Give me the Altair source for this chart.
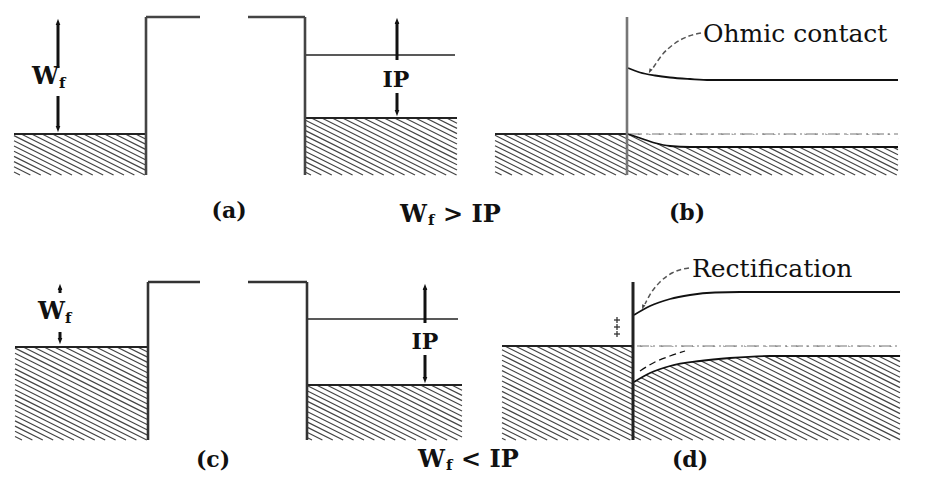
import altair as alt
import pandas as pd

# ---------------- data (pixel-space schematic coordinates) ----------------
# straight segments: [x1, y1, x2, y2]
barrier_a = [[146, 17, 146, 175], [146, 17, 200, 17], [248, 17, 305, 17], [305, 17, 305, 175]]
barrier_c = [[148, 282, 148, 440], [148, 282, 200, 282], [248, 282, 307, 282], [307, 282, 307, 440]]
fermi_levels = [[14, 134, 146, 134], [305, 118, 457, 118], [495, 134, 627, 134],
                [15, 347, 148, 347], [307, 385, 462, 385], [502, 346, 633, 346]]
vacuum_levels = [[305, 55, 455, 55], [307, 319, 458, 319]]
interface_b = [[627, 17, 627, 175]]
interface_d = [[633, 282, 633, 440]]
dashdot_levels = [[630, 134, 898, 134], [637, 346, 900, 346]]
arrow_shafts = [[58, 68, 58, 24], [58, 96, 58, 127], [397, 60, 397, 22], [397, 93, 397, 111],
                [60, 293, 60, 288], [60, 332, 60, 339], [425, 323, 425, 288], [425, 355, 425, 378]]
# arrow heads: [x, y, angle]
arrow_heads = [[58, 22, 0], [58, 129, 180], [397, 21, 0], [397, 113, 180],
               [60, 287, 0], [60, 341, 180], [425, 287, 0], [425, 380, 180]]

# surface charges in (d): small plus signs [x, y]
plus_marks = [[617, 320], [617, 327], [617, 334]]

# hatched regions: [x0, x1, y0, y1]
hatch_regions = [[14, 146, 134, 175], [305, 457, 118, 175], [495, 898, 134, 175],
                 [15, 148, 347, 440], [307, 462, 385, 440], [502, 900, 346, 440]]

# band-bending curves
b_upper_x = [628, 640, 655, 670, 690, 710, 898]
b_upper_y = [68, 72.5, 75.5, 77.5, 79, 80, 80]
b_lower_x = [628, 640, 655, 670, 690, 710, 898]
b_lower_y = [134, 138, 143, 146, 147, 147, 147]
d_upper_x = [634, 650, 670, 690, 715, 740, 900]
d_upper_y = [315, 306, 299, 295, 292.5, 292, 292]
d_lower_x = [634, 650, 670, 700, 730, 770, 900]
d_lower_y = [382, 373, 366, 361, 358, 356, 356]
d_dashed_x = [640, 655, 670, 685]
d_dashed_y = [371, 362, 356, 351]

# callout arrows (dashed curves)
ohmic_arrow_x = [701, 689, 674, 662, 653]
ohmic_arrow_y = [33, 36, 44, 55, 68]
rect_arrow_x = [689, 672, 660, 651, 645]
rect_arrow_y = [268, 273, 282, 293, 304]
callout_heads = [[650, 71, 208], [643, 307, 200]]

# texts: [text, x, y, size, weight, align, baseline]
labels = [
    ["W", 32, 77, 24, "bold", "left", "middle"], ["f", 59, 83, 15, "bold", "left", "middle"],
    ["IP", 396, 80, 22, "bold", "center", "middle"],
    ["W", 38, 312, 24, "bold", "left", "middle"], ["f", 65, 318, 15, "bold", "left", "middle"],
    ["IP", 425, 342, 22, "bold", "center", "middle"],
    ["(a)", 229, 211, 22, "bold", "center", "middle"],
    ["(b)", 687, 213, 22, "bold", "center", "middle"],
    ["(c)", 213, 460, 22, "bold", "center", "middle"],
    ["(d)", 690, 460, 22, "bold", "center", "middle"],
    ["W", 400, 215, 24, "bold", "left", "middle"], ["f", 428, 220, 15, "bold", "left", "middle"],
    ["> IP", 443, 215, 24, "bold", "left", "middle"],
    ["W", 418, 460, 24, "bold", "left", "middle"],
    ["f", 446, 465, 15, "bold", "left", "middle"],
    ["< IP", 461, 460, 24, "bold", "left", "middle"],
    ["Ohmic contact", 703, 34, 25, "normal", "left", "middle"],
    ["Rectification", 692, 269, 25, "normal", "left", "middle"],
]

# ---------------- build ----------------
XS = alt.Scale(domain=[8, 917], range=[0, 909], nice=False, zero=False)
YS = alt.Scale(domain=[8, 475], range=[0, 467], nice=False, zero=False)


def X(f="x"):
    return alt.X(f"{f}:Q", scale=XS, axis=None)


def Y(f="y"):
    return alt.Y(f"{f}:Q", scale=YS, axis=None)


def rules(segs, color="#222", width=1.5, dash=None):
    kw = dict(color=color, strokeWidth=width)
    if dash:
        kw["strokeDash"] = dash
    df = pd.DataFrame(segs, columns=["x", "y", "x2", "y2"])
    return alt.Chart(df).mark_rule(**kw).encode(x=X(), y=Y(), x2="x2:Q", y2="y2:Q")


def hatch(x0, x1, y0, y1, step=5.2, slope=0.5):
    out = []
    c = y0 - slope * (x1 - x0)
    while c < y1:
        xa, ya = x0, c
        if ya < y0:
            xa, ya = x0 + (y0 - c) / slope, y0
        xb, yb = x1, c + slope * (x1 - x0)
        if yb > y1:
            xb, yb = x0 + (y1 - c) / slope, y1
        if xa < xb:
            out.append([xa, ya, xb, yb])
        c += step
    return out


hatch_segs = []
for r in hatch_regions:
    hatch_segs += hatch(*r)

plus_segs = []
for px, py in plus_marks:
    plus_segs += [[px - 3, py, px + 3, py], [px, py - 3, px, py + 3]]


def curve(xs, ys, color="#111", width=1.8, dash=None):
    kw = dict(color=color, strokeWidth=width, interpolate="monotone")
    if dash:
        kw["strokeDash"] = dash
    df = pd.DataFrame({"x": xs, "y": ys, "o": range(len(xs))})
    return alt.Chart(df).mark_line(**kw).encode(x=X(), y=Y(), order="o:Q")


def mask(xs, ys, top):
    df = pd.DataFrame({"x": xs, "y": [top] * len(xs), "y2": ys})
    return alt.Chart(df).mark_area(color="white", opacity=1, interpolate="monotone").encode(
        x=X(), y=Y(), y2="y2:Q")


head_shape = "M0,-0.6L0.42,0.55L-0.42,0.55Z"


def heads(data, size=120, color="#111"):
    df = pd.DataFrame(data, columns=["x", "y", "a"])
    return alt.Chart(df).mark_point(shape=head_shape, filled=True, opacity=1,
                                    color=color, size=size, strokeWidth=0).encode(
        x=X(), y=Y(), angle=alt.Angle("a:Q", scale=None))


layers = [
    rules(hatch_segs, color="#444", width=1.2),
    mask(b_lower_x, b_lower_y, 134.6),
    mask(d_lower_x, d_lower_y, 346.6),
    rules(fermi_levels, color="#222", width=1.8),
    rules(vacuum_levels, color="#222", width=1.3),
    rules(dashdot_levels, color="#777", width=1.2, dash=[12, 4, 2, 4]),
    rules(barrier_a, color="#444", width=2.6),
    rules(barrier_c, color="#333", width=2.6),
    curve(b_upper_x, b_upper_y),
    curve(b_lower_x, b_lower_y),
    curve(d_upper_x, d_upper_y),
    curve(d_lower_x, d_lower_y),
    curve(d_dashed_x, d_dashed_y, width=1.3, dash=[7, 4]),
    rules(interface_b, color="#777", width=2.6),
    rules(interface_d, color="#222", width=3),
    rules(arrow_shafts, color="#111", width=3),
    heads(arrow_heads),
    rules(plus_segs, color="#333", width=1.3),
    curve(ohmic_arrow_x, ohmic_arrow_y, color="#555", width=1.5, dash=[5, 3]),
    curve(rect_arrow_x, rect_arrow_y, color="#555", width=1.5, dash=[5, 3]),
    heads(callout_heads, size=70, color="#444"),
]

for t, x, y, size, weight, align, base in labels:
    layers.append(
        alt.Chart(pd.DataFrame({"x": [x], "y": [y], "t": [t]})).mark_text(
            font="DejaVu Serif", fontSize=size, fontWeight=weight, align=align,
            baseline=base, color="#111").encode(x=X(), y=Y(), text="t:N"))

chart = alt.layer(*layers).properties(
    width=909, height=467, padding=0, autosize=alt.AutoSizeParams(type="none")
).configure_view(stroke=None)

chart.save("out.html", embed_options={"renderer": "svg", "actions": False})
